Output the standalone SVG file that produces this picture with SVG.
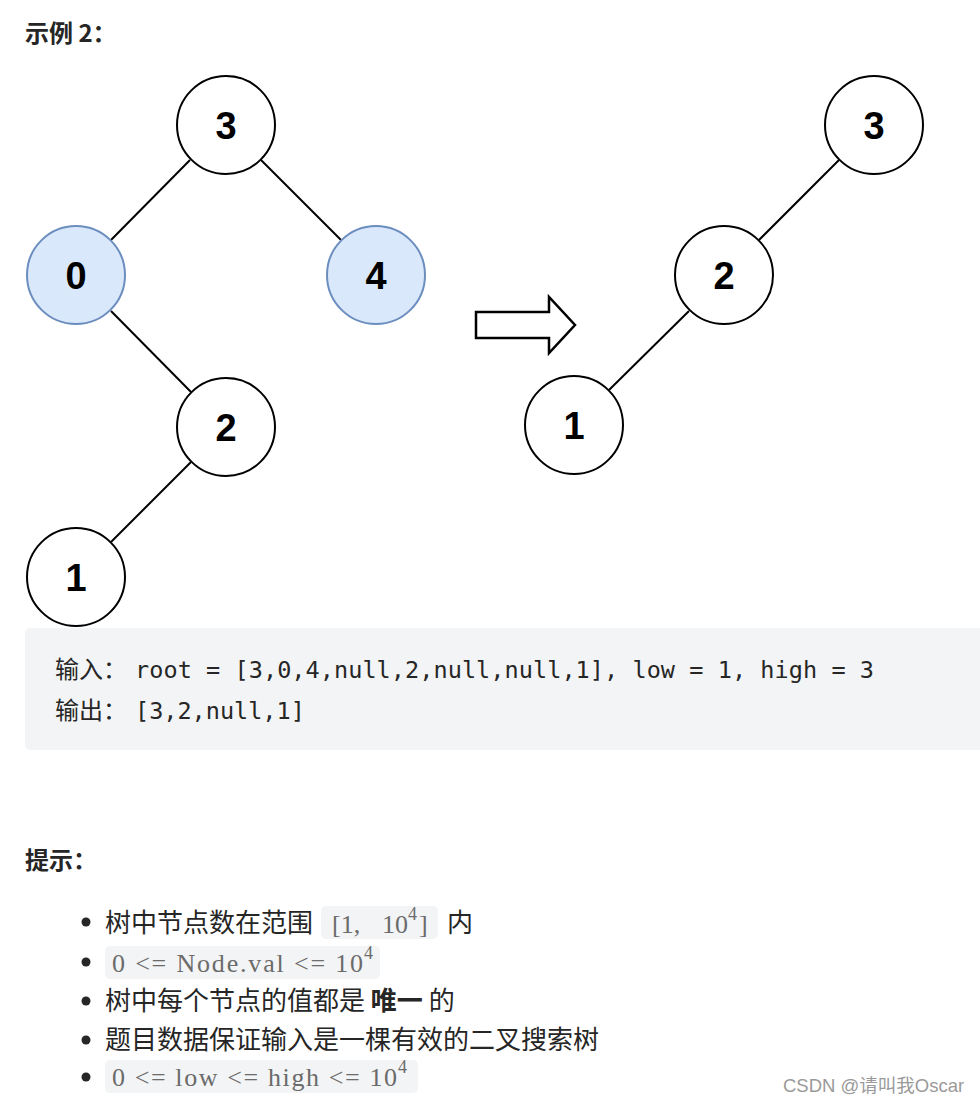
<svg xmlns="http://www.w3.org/2000/svg" width="980" height="1104" viewBox="0 0 980 1104">
<style>
.node{fill:#ffffff;stroke:#000000;stroke-width:2}
.hl{fill:#dae8fc;stroke:#6c8ebf;stroke-width:2}
.num{font-family:"Liberation Sans",Arial,sans-serif;font-weight:bold;font-size:38px;fill:#000;text-anchor:middle}
.edge{stroke:#000;stroke-width:2;fill:none}
.cjk{font-family:"Noto Sans CJK SC","Noto Sans",sans-serif;fill:#262626}
.mono{font-family:"DejaVu Sans Mono","Liberation Mono",monospace;font-size:23.5px;fill:#262626}
.code{fill:#f3f4f5}
.ser{font-family:"Liberation Serif","Times New Roman",serif;font-size:26px;fill:#6b6b6b}
.sup{font-family:"Liberation Serif","Times New Roman",serif;font-size:18px;fill:#6b6b6b}
</style>
<rect width="980" height="1104" fill="#ffffff"/>
<text x="25" y="42" class="cjk" font-size="24" font-weight="bold" fill="#262626">示例 2：</text>
<g id="connectors">
<line class="edge" x1="190" y1="160" x2="111" y2="240"/>
<line class="edge" x1="261" y1="160" x2="341" y2="240"/>
<line class="edge" x1="111" y1="311" x2="191" y2="392"/>
<line class="edge" x1="191" y1="462" x2="111" y2="542"/>
<line class="edge" x1="839" y1="160" x2="759" y2="240"/>
<line class="edge" x1="689" y1="311" x2="609" y2="390"/>
</g>
<g id="n3"><circle class="node" cx="226" cy="125" r="49"/><text class="num" x="226" y="139">3</text></g>
<g id="n0"><circle class="hl" cx="76" cy="275" r="49"/><text class="num" x="76" y="289">0</text></g>
<g id="n4"><circle class="hl" cx="376" cy="275" r="49"/><text class="num" x="376" y="289">4</text></g>
<g id="n2"><circle class="node" cx="226" cy="427" r="49"/><text class="num" x="226" y="441">2</text></g>
<g id="n1"><circle class="node" cx="76" cy="577" r="49"/><text class="num" x="76" y="591">1</text></g>
<g id="arrow"><polygon points="476,312 549,312 549,297 575,325 549,353 549,338 476,338" fill="#ffffff" stroke="#000" stroke-width="2.5"/></g>
<g id="r3"><circle class="node" cx="874" cy="125" r="49"/><text class="num" x="874" y="139">3</text></g>
<g id="r2"><circle class="node" cx="724" cy="275" r="49"/><text class="num" x="724" y="289">2</text></g>
<g id="r1"><circle class="node" cx="574" cy="425" r="49"/><text class="num" x="574" y="439">1</text></g>
<g id="codeblock">
<rect class="code" x="25" y="628" width="965" height="122" rx="5"/>
<text x="55" y="678" class="cjk" font-size="24">输入：</text>
<text x="135" y="678" class="mono" textLength="739">root = [3,0,4,null,2,null,null,1], low = 1, high = 3</text>
<text x="55" y="719" class="cjk" font-size="24">输出：</text>
<text x="135" y="719" class="mono">[3,2,null,1]</text>
</g>
<text x="25" y="869" class="cjk" font-size="24" font-weight="bold">提示：</text>
<g id="hints">
<circle cx="86" cy="922" r="4.5" fill="#262626"/>
<text x="105" y="932" class="cjk" font-size="26">树中节点数在范围</text>
<rect class="code" x="321" y="906" width="117" height="33" rx="5"/>
<text x="332" y="933" class="ser">[1,</text>
<text x="382" y="933" class="ser">10</text>
<text x="408" y="920" class="sup">4</text>
<text x="419" y="933" class="ser">]</text>
<text x="447" y="932" class="cjk" font-size="26">内</text>

<circle cx="86" cy="962" r="4.5" fill="#262626"/>
<rect class="code" x="105" y="946" width="275" height="33" rx="5"/>
<text x="112" y="972" class="ser" textLength="251">0 &lt;= Node.val &lt;= 10</text>
<text x="364" y="959" class="sup">4</text>

<circle cx="86" cy="1001" r="4.5" fill="#262626"/>
<text x="105" y="1010" class="cjk" font-size="26">树中每个节点的值都是 <tspan font-weight="bold">唯一</tspan> 的</text>

<circle cx="86" cy="1040" r="4.5" fill="#262626"/>
<text x="105" y="1049" class="cjk" font-size="26">题目数据保证输入是一棵有效的二叉搜索树</text>

<circle cx="86" cy="1077" r="4.5" fill="#262626"/>
<rect class="code" x="105" y="1060" width="313" height="33" rx="5"/>
<text x="112" y="1086" class="ser" textLength="285">0 &lt;= low &lt;= high &lt;= 10</text>
<text x="398" y="1073" class="sup">4</text>
</g>
<text x="783" y="1092" font-family="Liberation Sans,Arial,'Noto Sans CJK SC',sans-serif" font-size="18.5" fill="#9a9a9a">CSDN @请叫我Oscar</text>
</svg>
